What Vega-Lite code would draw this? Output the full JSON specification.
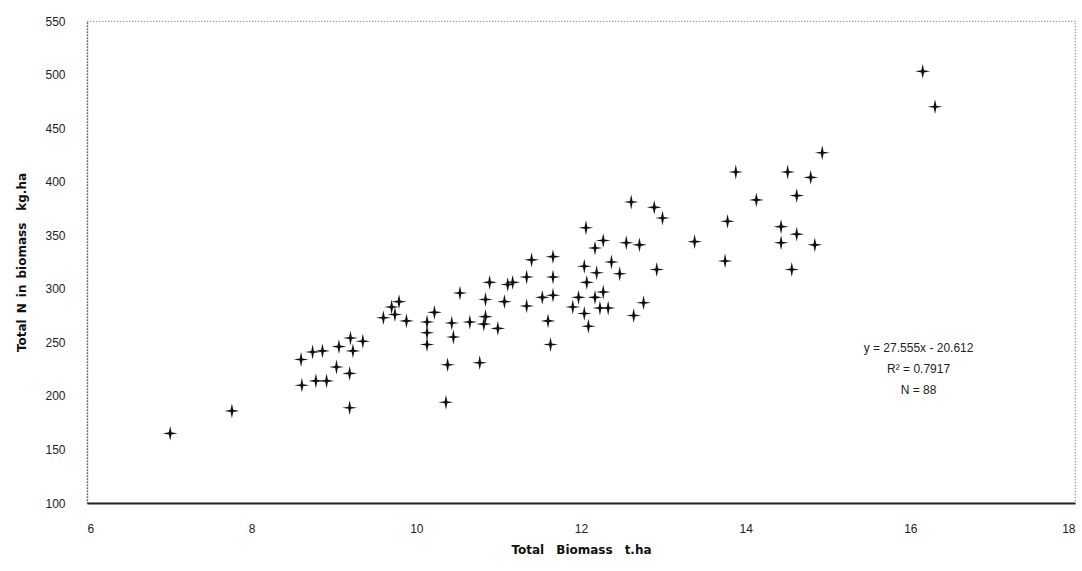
{
  "$schema": "https://vega.github.io/schema/vega-lite/v6.json",
  "autosize": "none",
  "width": 988,
  "height": 482,
  "padding": {"left": 87, "top": 21, "right": 7, "bottom": 68},
  "background": "white",
  "config": {
    "view": {"stroke": "#777", "strokeDash": [1, 2], "strokeWidth": 1.2},
    "axis": {"labelFont": "Liberation Sans", "titleFont": "DejaVu Sans", "labelColor": "#222", "titleColor": "#111", "grid": false, "ticks": false}
  },
  "data": {
    "values": [
      {"biomass": 7.01, "n": 165}, {"biomass": 7.76, "n": 186}, {"biomass": 8.60, "n": 234}, {"biomass": 8.74, "n": 241},
      {"biomass": 8.86, "n": 242}, {"biomass": 9.06, "n": 246}, {"biomass": 9.20, "n": 254}, {"biomass": 9.23, "n": 242},
      {"biomass": 9.35, "n": 251}, {"biomass": 8.61, "n": 210}, {"biomass": 8.78, "n": 214}, {"biomass": 8.91, "n": 214},
      {"biomass": 9.03, "n": 227}, {"biomass": 9.19, "n": 221}, {"biomass": 9.19, "n": 189}, {"biomass": 9.60, "n": 273},
      {"biomass": 9.79, "n": 288}, {"biomass": 9.74, "n": 276}, {"biomass": 9.88, "n": 270}, {"biomass": 10.22, "n": 278},
      {"biomass": 10.13, "n": 269}, {"biomass": 10.13, "n": 259}, {"biomass": 10.13, "n": 248}, {"biomass": 10.43, "n": 268},
      {"biomass": 10.45, "n": 255}, {"biomass": 10.65, "n": 269}, {"biomass": 10.53, "n": 296}, {"biomass": 10.89, "n": 306},
      {"biomass": 10.84, "n": 290}, {"biomass": 10.84, "n": 274}, {"biomass": 10.82, "n": 267}, {"biomass": 11.07, "n": 288},
      {"biomass": 10.99, "n": 263}, {"biomass": 10.38, "n": 229}, {"biomass": 10.77, "n": 231}, {"biomass": 10.36, "n": 194},
      {"biomass": 11.17, "n": 306}, {"biomass": 11.34, "n": 311}, {"biomass": 11.40, "n": 327}, {"biomass": 11.66, "n": 330},
      {"biomass": 11.66, "n": 311}, {"biomass": 11.34, "n": 284}, {"biomass": 11.53, "n": 292}, {"biomass": 11.66, "n": 294},
      {"biomass": 11.97, "n": 292}, {"biomass": 12.17, "n": 292}, {"biomass": 11.90, "n": 283}, {"biomass": 12.04, "n": 277},
      {"biomass": 12.23, "n": 282}, {"biomass": 12.33, "n": 282}, {"biomass": 12.09, "n": 265}, {"biomass": 11.60, "n": 270},
      {"biomass": 11.63, "n": 248}, {"biomass": 12.76, "n": 287}, {"biomass": 12.64, "n": 275}, {"biomass": 12.04, "n": 321},
      {"biomass": 12.07, "n": 306}, {"biomass": 12.19, "n": 315}, {"biomass": 12.47, "n": 314}, {"biomass": 12.37, "n": 325},
      {"biomass": 12.92, "n": 318}, {"biomass": 12.06, "n": 357}, {"biomass": 12.17, "n": 338}, {"biomass": 12.27, "n": 345},
      {"biomass": 12.55, "n": 343}, {"biomass": 12.71, "n": 341}, {"biomass": 12.61, "n": 381}, {"biomass": 12.89, "n": 376},
      {"biomass": 12.99, "n": 366}, {"biomass": 13.38, "n": 344}, {"biomass": 13.75, "n": 326}, {"biomass": 13.78, "n": 363},
      {"biomass": 13.88, "n": 409}, {"biomass": 14.13, "n": 383}, {"biomass": 14.43, "n": 358}, {"biomass": 14.43, "n": 343},
      {"biomass": 14.51, "n": 409}, {"biomass": 14.56, "n": 318}, {"biomass": 14.62, "n": 387}, {"biomass": 14.62, "n": 351},
      {"biomass": 14.79, "n": 404}, {"biomass": 14.84, "n": 341}, {"biomass": 14.93, "n": 427}, {"biomass": 16.15, "n": 503},
      {"biomass": 16.30, "n": 470}, {"biomass": 11.11, "n": 304}, {"biomass": 12.27, "n": 297}, {"biomass": 9.70, "n": 283}
    ]
  },
  "layer": [
    {
      "mark": {
        "type": "point",
        "shape": "M-1,0L-0.18,-0.14L0,-1L0.18,-0.14L1,0L0.18,0.14L0,1L-0.18,0.14Z",
        "filled": true,
        "color": "#111",
        "opacity": 1,
        "size": 220
      },
      "encoding": {
        "x": {
          "field": "biomass", "type": "quantitative",
          "scale": {"domain": [6, 18], "nice": false, "zero": false},
          "axis": {
            "values": [6, 8, 10, 12, 14, 16, 18],
            "format": "d",
            "title": "Total\u2003Biomass\u2003t.ha",
            "titleFontSize": 12, "titleFontWeight": "bold", "titlePadding": 10,
            "labelFontSize": 12, "labelPadding": 20,
            "domainColor": "#222", "domainWidth": 2.2
          }
        },
        "y": {
          "field": "n", "type": "quantitative",
          "scale": {"domain": [100, 550], "nice": false, "zero": false},
          "axis": {
            "values": [100, 150, 200, 250, 300, 350, 400, 450, 500, 550],
            "title": "Total\u2002N\u2002in\u2002biomass\u2003kg.ha",
            "titleFontSize": 12, "titleFontWeight": "bold", "titlePadding": 16,
            "labelFontSize": 12, "labelPadding": 22,
            "domainColor": "#333", "domainWidth": 1.5, "domainDash": [1, 2]
          }
        }
      }
    },
    {
      "data": {"values": [{}]},
      "mark": {"type": "text", "font": "Liberation Sans", "fontSize": 12, "color": "#222", "align": "center", "lineHeight": 21},
      "encoding": {
        "x": {"datum": 16.1},
        "y": {"datum": 245},
        "text": {"value": ["y = 27.555x - 20.612", "R² = 0.7917", "N = 88"]}
      }
    }
  ]
}
